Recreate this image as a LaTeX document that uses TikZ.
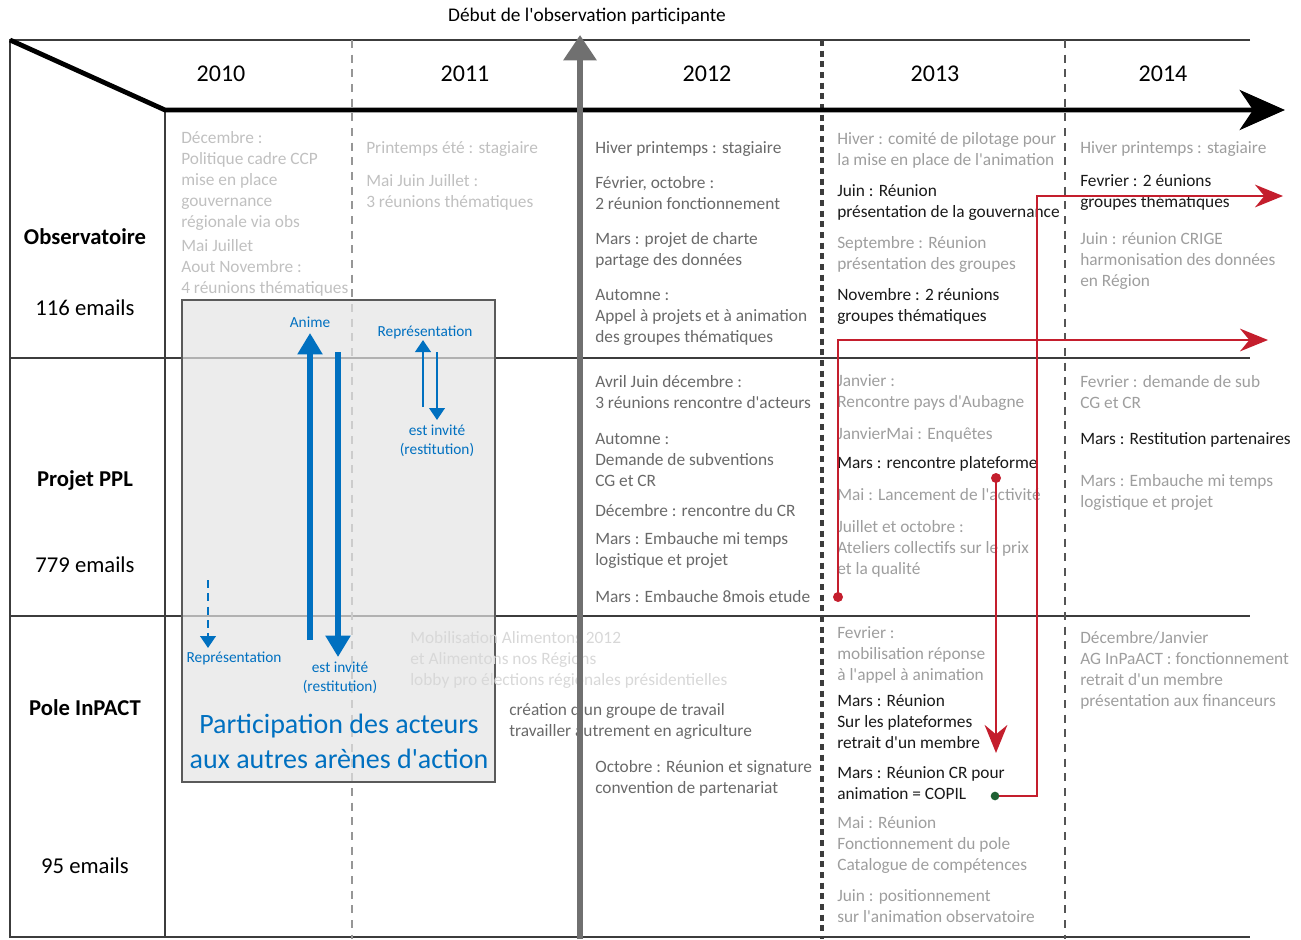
\documentclass[tikz,border=0pt]{standalone}
\usepackage{fontspec}
\setmainfont{Carlito}[Ligatures=TeXOff]
\usetikzlibrary{arrows.meta}

\definecolor{gridline}{RGB}{60,60,60}
\definecolor{yearline}{RGB}{150,150,150}
\definecolor{lastline}{RGB}{85,85,85}
\definecolor{txtfaint}{RGB}{192,192,192}
\definecolor{txtghost}{RGB}{216,216,216}
\definecolor{txtlight}{RGB}{158,158,158}
\definecolor{txtmid}{RGB}{105,105,105}
\definecolor{txtdark}{RGB}{25,25,25}
\definecolor{arenablue}{RGB}{0,112,192}
\definecolor{linkred}{RGB}{196,30,45}
\definecolor{dotgreen}{RGB}{30,95,50}
\definecolor{startgray}{RGB}{112,112,112}
\definecolor{boxfill}{RGB}{228,228,228}
\definecolor{boxedge}{RGB}{90,90,90}

\tikzset{
  cell/.style={anchor=west,inner sep=0pt,align=left,font=\fontsize{13}{15.75}\selectfont},
  year/.style={inner sep=0pt,font=\fontsize{18}{20}\selectfont},
  rowlabel/.style={inner sep=0pt,font=\fontsize{17}{20}\selectfont},
  bluelabel/.style={inner sep=0pt,align=center,text=arenablue,font=\fontsize{11.5}{14.25}\selectfont},
  bluebig/.style={draw=arenablue,line width=3.8pt,-{Triangle[length=16pt,width=18pt]}},
  bluesmall/.style={draw=arenablue,line width=2.2pt,-{Triangle[length=9pt,width=11.5pt]}},
  redlink/.style={draw=linkred,line width=2pt,-{Stealth[length=21pt,width=17pt,inset=7pt]}},
  reddot/.style={circle,fill=linkred,inner sep=0pt,minimum size=7.5pt},
  greendot/.style={circle,fill=dotgreen,inner sep=0pt,minimum size=6.5pt}
}

\begin{document}
\begin{tikzpicture}[x=0.75pt,y=0.75pt,yscale=-1]
\useasboundingbox (0,0) rectangle (1301,939);

%Straight Lines (frame)
\draw [gridline,line width=1.1pt] (1250,40) -- (10,40) -- (10,937) -- (1250,937) ;
\draw [gridline,line width=1.1pt] (165,110) -- (165,937) ;
\draw [gridline,line width=1.1pt] (10,358) -- (1250,358) ;
\draw [gridline,line width=1.1pt] (10,616) -- (1250,616) ;
%Straight Lines (year separators)
\draw [yearline,line width=1.1pt,dash pattern=on 6pt off 5pt] (352,40) -- (352,939) ;
\draw [gridline,line width=3pt,dash pattern=on 4.5pt off 3.5pt] (822,40) -- (822,939) ;
\draw [lastline,line width=1pt,dash pattern=on 6pt off 5pt] (1065,40) -- (1065,939) ;

%Rectangle
\draw [draw=boxedge,line width=1pt,fill=boxfill,fill opacity=0.7] (182,300) rectangle (495,782) ;

% Text Node
\draw (587,16) node (debut) [inner sep=0pt,font=\fontsize{14.5}{16}\selectfont] {Début de l'observation participante};
% Text Node
\draw (221,74) node (y2010) [year] {2010};
\draw (465,74) node (y2011) [year] {2011};
\draw (707,74) node (y2012) [year] {2012};
\draw (935,74) node (y2013) [year] {2013};
\draw (1163,74) node (y2014) [year] {2014};
% Text Node
\draw (85,237) node (obs) [rowlabel] {\bfseries Observatoire};
\draw (85,308) node (obsmail) [rowlabel] {116 emails};
\draw (85,480) node (ppl) [rowlabel] {\bfseries Projet PPL};
\draw (85,565) node (pplmail) [rowlabel] {779 emails};
\draw (85,708) node (pole) [rowlabel] {\bfseries Pole InPACT};
\draw (85,866) node (polemail) [rowlabel] {95 emails};

% Text Node (Observatoire)
\draw (181,181) node (obsA) [cell,text=txtfaint] {Décembre :\\Politique cadre CCP\\mise en place\\gouvernance\\régionale via obs};
\draw (181,268) node (obsB) [cell,text=txtfaint] {Mai Juillet\\Aout Novembre :\\4 réunions thématiques};
\draw (366,149) node (obsC) [cell,text=txtfaint] {Printemps été : stagiaire};
\draw (366,192.5) node (obsD) [cell,text=txtfaint] {Mai Juin Juillet :\\3 réunions thématiques};
\draw (595,149) node (obsE) [cell,text=txtmid] {Hiver printemps : stagiaire};
\draw (595,193) node (obsF) [cell,text=txtmid] {Février, octobre :\\2 réunion fonctionnement};
\draw (595,250) node (obsG) [cell,text=txtmid] {Mars : projet de charte\\partage des données};
\draw (595,317) node (obsH) [cell,text=txtmid] {Automne :\\Appel à projets et à animation\\des groupes thématiques};
\draw (837,150) node (obsI) [cell,text=txtlight] {Hiver : comité de pilotage pour\\la mise en place de l'animation};
\draw (837,202.5) node (obsJ) [cell,text=txtdark] {Juin : Réunion\\présentation de la gouvernance};
\draw (837,254.5) node (obsK) [cell,text=txtlight] {Septembre : Réunion\\présentation des groupes};
\draw (837,306.5) node (obsL) [cell,text=txtdark] {Novembre : 2 réunions\\groupes thématiques};
\draw (1080,149) node (obsM) [cell,text=txtlight] {Hiver printemps : stagiaire};
\draw (1080,192.5) node (obsN) [cell,text=txtdark] {Fevrier : 2 éunions\\groupes thématiques};
\draw (1080,261) node (obsO) [cell,text=txtlight] {Juin : réunion CRIGE\\harmonisation des données\\en Région};

% Text Node (Projet PPL)
\draw (595,392.5) node (pplA) [cell,text=txtmid] {Avril Juin décembre :\\3 réunions rencontre d'acteurs};
\draw (595,460) node (pplB) [cell,text=txtmid] {Automne :\\Demande de subventions\\CG et CR};
\draw (595,511) node (pplC) [cell,text=txtmid] {Décembre : rencontre du CR};
\draw (595,550) node (pplD) [cell,text=txtmid] {Mars : Embauche mi temps\\logistique et projet};
\draw (595,597) node (pplE) [cell,text=txtmid] {Mars : Embauche 8mois etude};
\draw (837,392.5) node (pplF) [cell,text=txtlight] {Janvier :\\Rencontre pays d'Aubagne};
\draw (837,435) node (pplG) [cell,text=txtlight] {JanvierMai : Enquêtes};
\draw (837,464) node (pplH) [cell,text=txtdark] {Mars : rencontre plateforme};
\draw (837,495) node (pplI) [cell,text=txtlight] {Mai : Lancement de l'activité};
\draw (837,549) node (pplJ) [cell,text=txtlight] {Juillet et octobre :\\Ateliers collectifs sur le prix\\et la qualité};
\draw (1080,392.5) node (pplK) [cell,text=txtlight] {Fevrier : demande de sub\\CG et CR};
\draw (1080,440) node (pplL) [cell,text=txtdark] {Mars : Restitution partenaires};
\draw (1080,492.5) node (pplM) [cell,text=txtlight] {Mars : Embauche mi temps\\logistique et projet};

% Text Node (Pole InPACT)
\draw (410,660) node (poleA) [cell,text=txtghost] {Mobilisation Alimentons 2012\\et Alimentons nos Régions\\lobby pro élections régionales présidentielles};
\draw (509,721.5) node (poleB) [cell,text=txtmid] {création d'un groupe de travail\\travailler autrement en agriculture};
\draw (595,778.5) node (poleC) [cell,text=txtmid] {Octobre : Réunion et signature\\convention de partenariat};
\draw (837,655) node (poleD) [cell,text=txtlight] {Fevrier :\\mobilisation réponse\\à l'appel à animation};
\draw (837,722) node (poleE) [cell,text=txtdark] {Mars : Réunion\\Sur les plateformes\\retrait d'un membre};
\draw (837,783.5) node (poleF) [cell,text=txtdark] {Mars : Réunion CR pour\\animation = COPIL};
\draw (837,845) node (poleG) [cell,text=txtlight] {Mai : Réunion\\Fonctionnement du pole\\Catalogue de compétences};
\draw (837,906.5) node (poleH) [cell,text=txtlight] {Juin : positionnement\\sur l'animation observatoire};
\draw (1080,670.5) node (poleI) [cell,text=txtlight] {Décembre/Janvier\\AG InPaACT : fonctionnement\\retrait d'un membre\\présentation aux financeurs};

% Text Node (arenes)
\draw (310,322) node (anime) [bluelabel] {Anime};
\draw (425,332) node (repA) [bluelabel] {Représentation};
\draw (437,440.5) node (invA) [bluelabel] {est invité\\(restitution)};
\draw (234,658) node (repB) [bluelabel] {Représentation};
\draw (340,677.5) node (invB) [bluelabel] {est invité\\(restitution)};
\draw (339,741.5) node (arenes) [inner sep=0pt,align=center,text=arenablue,font=\fontsize{21}{26}\selectfont] {Participation des acteurs\\aux autres arènes d'action};

%Straight Lines (timeline)
\draw [line width=3.6pt,line join=miter,-{Stealth[length=34pt,width=30pt,inset=10pt]}] (10,40) -- (165,110) -- (1285,110) ;
\coordinate (obsStart) at (580,939);
\coordinate (obsTip) at (580,35);
\draw [startgray,line width=4.5pt,-{Triangle[length=19pt,width=24pt]}] (obsStart) -- (obsTip) ;

%Straight Lines (blue)
\coordinate (animeFoot) at (310,640);
\coordinate (animeTip) at (310,333);
\coordinate (invBTop) at (338,352);
\coordinate (invBTip) at (338,657);
\coordinate (repAFoot) at (423,407);
\coordinate (repATip) at (423,340);
\coordinate (invATop) at (437,352);
\coordinate (invATip) at (437,420);
\coordinate (repBTop) at (208,580);
\coordinate (repBTip) at (208,648);
\draw [bluebig] (animeFoot) -- (animeTip) ;
\draw [bluebig] (invBTop) -- (invBTip) ;
\draw [bluesmall] (repAFoot) -- (repATip) ;
\draw [bluesmall] (invATop) -- (invATip) ;
\draw [bluesmall,dash pattern=on 6pt off 4pt] (repBTop) -- (repBTip) ;

%Straight Lines (red)
\coordinate (dotA) at (838,597);
\coordinate (endA) at (1268,340);
\coordinate (dotC) at (996,478);
\coordinate (endC) at (996,753);
\coordinate (dotG) at (995,796);
\coordinate (turnG) at (1037,196);
\coordinate (endG) at (1283,196);
\draw [redlink] (dotA) |- (endA) ;
\draw [redlink] (dotC) -- (endC) ;
\draw [redlink] (dotG) -| (turnG) -- (endG) ;
\node (dotAn) at (dotA) [reddot] {};
\node (dotCn) at (dotC) [reddot] {};
\node (dotGn) at (dotG) [greendot] {};
\end{tikzpicture}
\end{document}
